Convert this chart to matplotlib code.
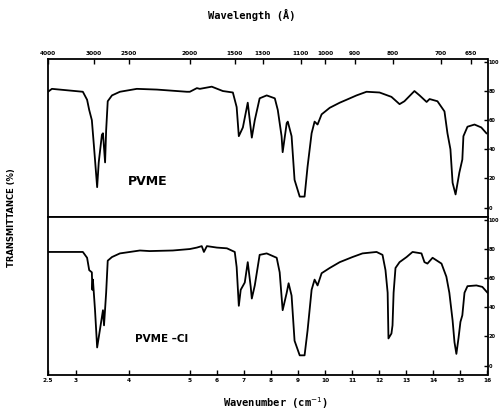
import numpy as np
import matplotlib
matplotlib.use("Agg")
import matplotlib.pyplot as plt

# ---------------- data (wavelength in micrometres, transmittance in %) -------------
pvme_wl = [2.50, 2.57, 3.13, 3.21, 3.25, 3.30, 3.34, 3.40, 3.43, 3.49, 3.51, 3.55, 3.57,
           3.60, 3.68, 3.83, 4.13, 4.46, 4.95, 5.00, 5.26, 5.37, 5.81, 6.22, 6.59, 6.73,
           6.81, 6.96, 7.14, 7.29, 7.40, 7.58, 7.84, 8.14, 8.25, 8.39, 8.43, 8.58, 8.62,
           8.76, 8.87, 9.06, 9.24, 9.35, 9.50, 9.61, 9.72, 9.87, 10.17, 10.54, 10.79,
           11.16, 11.53, 12.01, 12.45, 12.75, 12.93, 13.30, 13.49, 13.75, 13.86, 14.15,
           14.41, 14.52, 14.63, 14.71, 14.82, 14.96, 15.07, 15.11, 15.26, 15.52, 15.77, 15.96]
pvme_t = [79.5, 81.5, 79.5, 74, 67, 60, 42, 14, 31, 50, 51, 31, 53,
          73, 77, 79.5, 81.5, 81, 79.5, 79.5, 82, 81.5, 83, 80, 79, 69,
          49, 55, 72, 48, 60, 75, 77, 75, 67, 49, 38, 58, 59,
          49, 19, 7.5, 7.5, 28, 51, 59, 57, 64, 68.5, 72, 74,
          77, 79.5, 79, 76, 71, 73, 80, 77, 72.5, 74.5, 73,
          66, 51, 40, 17, 9, 24, 33, 49, 55.5, 57, 55, 51]

pvmecl_wl = [2.50, 3.13, 3.21, 3.25, 3.30, 3.31, 3.32, 3.36, 3.40, 3.45, 3.51, 3.53, 3.57,
             3.60, 3.68, 3.83, 4.18, 4.34, 4.72, 5.00, 5.26, 5.44, 5.52, 5.63, 6.00, 6.37,
             6.66, 6.73, 6.81, 6.88, 7.03, 7.14, 7.25, 7.29, 7.40, 7.58, 7.84, 8.21, 8.32,
             8.43, 8.58, 8.65, 8.76, 8.87, 9.06, 9.24, 9.35, 9.50, 9.61, 9.72, 9.87, 10.17,
             10.54, 11.01, 11.38, 11.90, 12.12, 12.23, 12.31, 12.34, 12.45, 12.49, 12.53,
             12.60, 12.75, 13.01, 13.23, 13.56, 13.67, 13.78, 13.97, 14.30, 14.48, 14.59,
             14.71, 14.78, 14.85, 14.93, 15.00, 15.07, 15.15, 15.26, 15.59, 15.81, 16.00]
pvmecl_t = [78, 78, 74, 65.5, 64, 52, 59, 38, 12.4, 24, 38, 27.6, 50,
            72, 74.5, 77, 79, 78.6, 79, 80, 81, 82, 78, 82, 81, 80.5,
            78, 67.6, 41, 52, 57, 71, 54, 46, 55, 76, 77, 74, 64,
            38, 50, 56.5, 48, 17, 7, 7, 24, 52, 59, 55, 63.4, 67,
            71, 74.5, 77, 78, 76, 65.5, 50, 18.6, 22, 27.6, 50,
            67, 71, 74.5, 78, 77, 71, 70, 74, 70, 61, 50,
            31, 16, 8, 19, 30, 34.5, 50, 54.5, 55, 54, 50]

bottom_ticks = [2.5, 3, 4, 5, 6, 7, 8, 9, 10, 11, 12, 13, 14, 15, 16]
bottom_labels = ["2.5", "3", "4", "5", "6", "7", "8", "9", "10", "11", "12", "13", "14", "15", "16"]
top_wavenumbers = [4000, 3000, 2500, 2000, 1500, 1300, 1100, 1000, 900, 800, 700, 650]
y_ticks = [0, 20, 40, 60, 80, 100]

# chart-paper scale: expanded region below 5 um, linear above
scale_um = [2.5, 3.0, 4.0, 5.0, 16.0]
scale_u = [0.0, 28.0, 81.0, 142.0, 440.0]


def fwd(x):
    return np.interp(x, scale_um, scale_u)


def inv(u):
    return np.interp(u, scale_u, scale_um)


fig = plt.figure(figsize=(5.01, 4.15), dpi=100)
W, H = 501, 415
left, right = 48 / W, 487.5 / W
ax1 = fig.add_axes([left, 1 - 217 / H, right - left, (217 - 59) / H])
ax2 = fig.add_axes([left, 1 - 375 / H, right - left, (375 - 217) / H])

tick_font = dict(fontsize=4.2, fontweight="bold", family="DejaVu Sans")
ytick_font = dict(fontsize=3.6, fontweight="bold", family="DejaVu Sans")

for ax, wl, t in ((ax1, pvme_wl, pvme_t), (ax2, pvmecl_wl, pvmecl_t)):
    ax.set_xscale("function", functions=(fwd, inv))
    ax.plot(wl, t, color="black", lw=1.3, solid_joinstyle="round")
    ax.set_xlim(2.5, 16)
    ax.set_ylim(-6.5, 102)
    for s in ax.spines.values():
        s.set_linewidth(1.3)
    ax.yaxis.tick_right()
    ax.set_yticks(y_ticks)
    ax.set_yticklabels([str(v) for v in y_ticks], **ytick_font)
    ax.tick_params(axis="y", direction="in", length=3, width=1, pad=1)
    ax.minorticks_off()

# top panel: wavenumber ticks on top
ax1.xaxis.tick_top()
ax1.set_xticks([1e4 / w for w in top_wavenumbers])
ax1.set_xticklabels([str(w) for w in top_wavenumbers], **tick_font)
ax1.tick_params(axis="x", direction="in", length=3.5, width=1, pad=2)
ax1.xaxis.set_minor_locator(matplotlib.ticker.NullLocator())

# bottom panel: wavelength ticks on bottom
ax2.set_xticks(bottom_ticks)
ax2.set_xticklabels(bottom_labels, **tick_font)
ax2.tick_params(axis="x", direction="in", length=3.5, width=1, pad=2)
ax2.xaxis.set_minor_locator(matplotlib.ticker.NullLocator())

ax1.text(4.31, 18, "PVME", fontsize=9, fontweight="bold", ha="center", va="center")
ax2.text(4.54, 18.5, "PVME \u2013Cl", fontsize=7.5, fontweight="bold", ha="center", va="center")

fig.text(252 / W, 1 - 15 / H, "Wavelength (\u00c5)", fontsize=7.5, fontweight="bold",
         family="DejaVu Sans Mono", ha="center", va="center")
fig.text(275 / W, 1 - 403 / H, "Wavenumber (cm$^{-1}$)", fontsize=7.5, fontweight="bold",
         family="DejaVu Sans Mono", ha="center", va="center")
fig.text(12 / W, 1 - 218 / H, "TRANSMITTANCE (%)", fontsize=6, fontweight="bold",
         rotation=90, ha="center", va="center")

fig.savefig("out.png", dpi=100)
